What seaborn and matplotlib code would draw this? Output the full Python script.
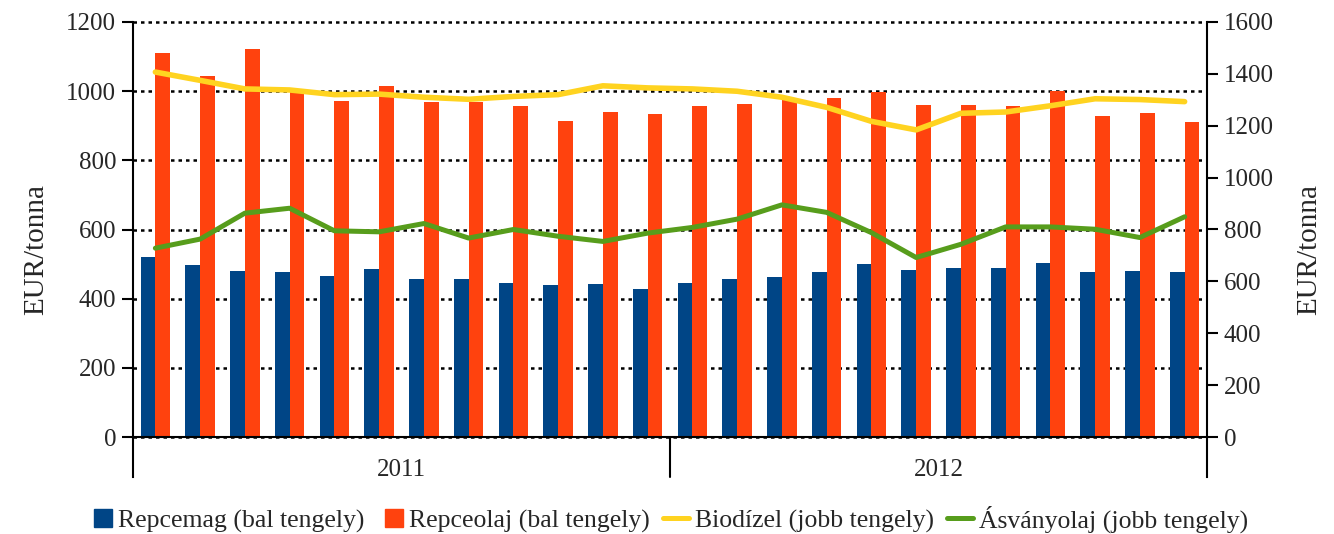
import numpy as np
import pandas as pd
import matplotlib
matplotlib.use("Agg")
import matplotlib.pyplot as plt
import seaborn as sns
from matplotlib.lines import Line2D
from matplotlib.patches import Rectangle
from matplotlib.legend_handler import HandlerPatch

# ---- data ----
months = ["2011-01", "2011-02", "2011-03", "2011-04", "2011-05", "2011-06",
          "2011-07", "2011-08", "2011-09", "2011-10", "2011-11", "2011-12",
          "2012-01", "2012-02", "2012-03", "2012-04", "2012-05", "2012-06",
          "2012-07", "2012-08", "2012-09", "2012-10", "2012-11", "2012-12"]
years = ["2011", "2012"]
repcemag = [521, 498, 480, 477, 466, 486, 457, 457, 445, 440, 443, 428,
            445, 457, 463, 477, 500, 483, 489, 489, 503, 477, 480, 477]
repceolaj = [1110, 1045, 1121, 1000, 973, 1016, 970, 970, 956, 915, 941, 935,
             958, 964, 975, 979, 997, 961, 961, 958, 1000, 929, 938, 912]
biodizel = [1407, 1375, 1342, 1338, 1320, 1322, 1310, 1302, 1313, 1320, 1354, 1346,
            1342, 1333, 1310, 1271, 1217, 1184, 1248, 1253, 1277, 1304, 1301, 1293]
asvanyolaj = [728, 763, 863, 882, 795, 791, 823, 767, 800, 774, 754, 786,
              808, 840, 895, 866, 788, 692, 743, 810, 810, 801, 769, 849]
series_names = ["Repcemag (bal tengely)", "Repceolaj (bal tengely)",
                "Biodízel (jobb tengely)", "Ásványolaj (jobb tengely)"]
ylabel = "EUR/tonna"

colors = ["#004586", "#ff420e", "#ffd320", "#579d1c"]

sns.set_style("white")
plt.rcParams["font.family"] = ["Liberation Serif", "DejaVu Serif"]
FS_TICK = 18
FS_LEG = 18.5
FS_LAB = 21

W, H = 1334, 534
fig = plt.figure(figsize=(W / 100, H / 100), dpi=100)
ax_left, ax_right, ax_top, ax_bot = 133, 1207, 22, 477
zero_y = 437
ax = fig.add_axes([ax_left / W, 1 - ax_bot / H, (ax_right - ax_left) / W, (ax_bot - ax_top) / H])

bars = pd.DataFrame({
    "Hónap": months * 2,
    "Érték": repcemag + repceolaj,
    "Sorozat": [series_names[0]] * len(months) + [series_names[1]] * len(months),
})
sns.barplot(data=bars, x="Hónap", y="Érték", hue="Sorozat", palette=colors[:2],
            width=0.66, saturation=1, errorbar=None, legend=False,
            linewidth=0, edgecolor="none", ax=ax)

left_max = 1200
left_min = -(ax_bot - zero_y) / (zero_y - ax_top) * left_max
ax.set_xlim(-0.5, len(months) - 0.5)
ax.set_ylim(left_min, left_max)
ax.set_yticks(range(0, 1201, 200))
ax.yaxis.grid(True, color="black", linestyle=(0, (1.4, 1.6)), linewidth=1.8)
for gl in ax.get_ygridlines():
    gl.set_clip_on(False)
ax.xaxis.grid(False)
ax.set_axisbelow(True)
for s in ["top", "right"]:
    ax.spines[s].set_visible(False)
ax.spines["bottom"].set_position(("data", 0))
for s in ["left", "bottom"]:
    ax.spines[s].set_linewidth(1.5)
    ax.spines[s].set_color("black")
ax.set_xticks(np.arange(-0.5, len(months), 1.0))
ax.set_xticklabels([])
ax.set_xlabel("")
ax.tick_params(axis="x", direction="out", length=7.5, width=1.5, color="black")
ax.tick_params(axis="y", direction="out", length=8, width=1.5, color="black",
               labelsize=FS_TICK, pad=4, left=True)
ax.set_ylabel(ylabel, fontsize=FS_LAB, labelpad=12)

# year separator and year labels
ax.plot([11.5, 11.5], [0, left_min], color="black", lw=1.5, clip_on=False)
label_y = -(470 - zero_y) / (zero_y - ax_top) * left_max
for i, yr in enumerate(years):
    ax.text(5.5 + 12 * i, label_y, yr, ha="center", va="center", fontsize=FS_TICK)

# right axis lines
ax2 = ax.twinx()
xpos = list(range(len(months)))
sns.lineplot(x=xpos, y=biodizel, color=colors[2], linewidth=4.0, ax=ax2)
sns.lineplot(x=xpos, y=asvanyolaj, color=colors[3], linewidth=3.6, ax=ax2)
right_max = 1600
right_min = -(ax_bot - zero_y) / (zero_y - ax_top) * right_max
ax2.set_ylim(right_min, right_max)
ax2.set_yticks(range(0, 1601, 200))
ax2.grid(False)
for s in ["top", "bottom", "left"]:
    ax2.spines[s].set_visible(False)
ax2.spines["right"].set_linewidth(1.5)
ax2.spines["right"].set_color("black")
ax2.tick_params(axis="y", direction="out", length=8, width=1.5, color="black",
                labelsize=FS_TICK, pad=4, right=True)
ax2.set_xlabel("")
ax2.set_ylabel(ylabel, fontsize=FS_LAB, labelpad=16)
ax2.set_xlim(-0.5, len(months) - 0.5)


def square_right(legend, orig_handle, xdescent, ydescent, width, height, fontsize):
    s = 13.0
    return Rectangle((width - s - xdescent, (height - s) / 2 - ydescent), s, s)


handles = [
    Rectangle((0, 0), 1, 1, color=colors[0]),
    Rectangle((0, 0), 1, 1, color=colors[1]),
    Line2D([], [], color=colors[2], lw=3.6),
    Line2D([], [], color=colors[3], lw=3.6),
]
fig.legend(handles, series_names, loc="center", bbox_to_anchor=(0.5, 1 - 519 / H),
           ncol=4, frameon=False, fontsize=FS_LEG, handlelength=1.0,
           handletextpad=0.25, columnspacing=0.5,
           handler_map={Rectangle: HandlerPatch(patch_func=square_right)})

fig.savefig("out.png", dpi=100)
